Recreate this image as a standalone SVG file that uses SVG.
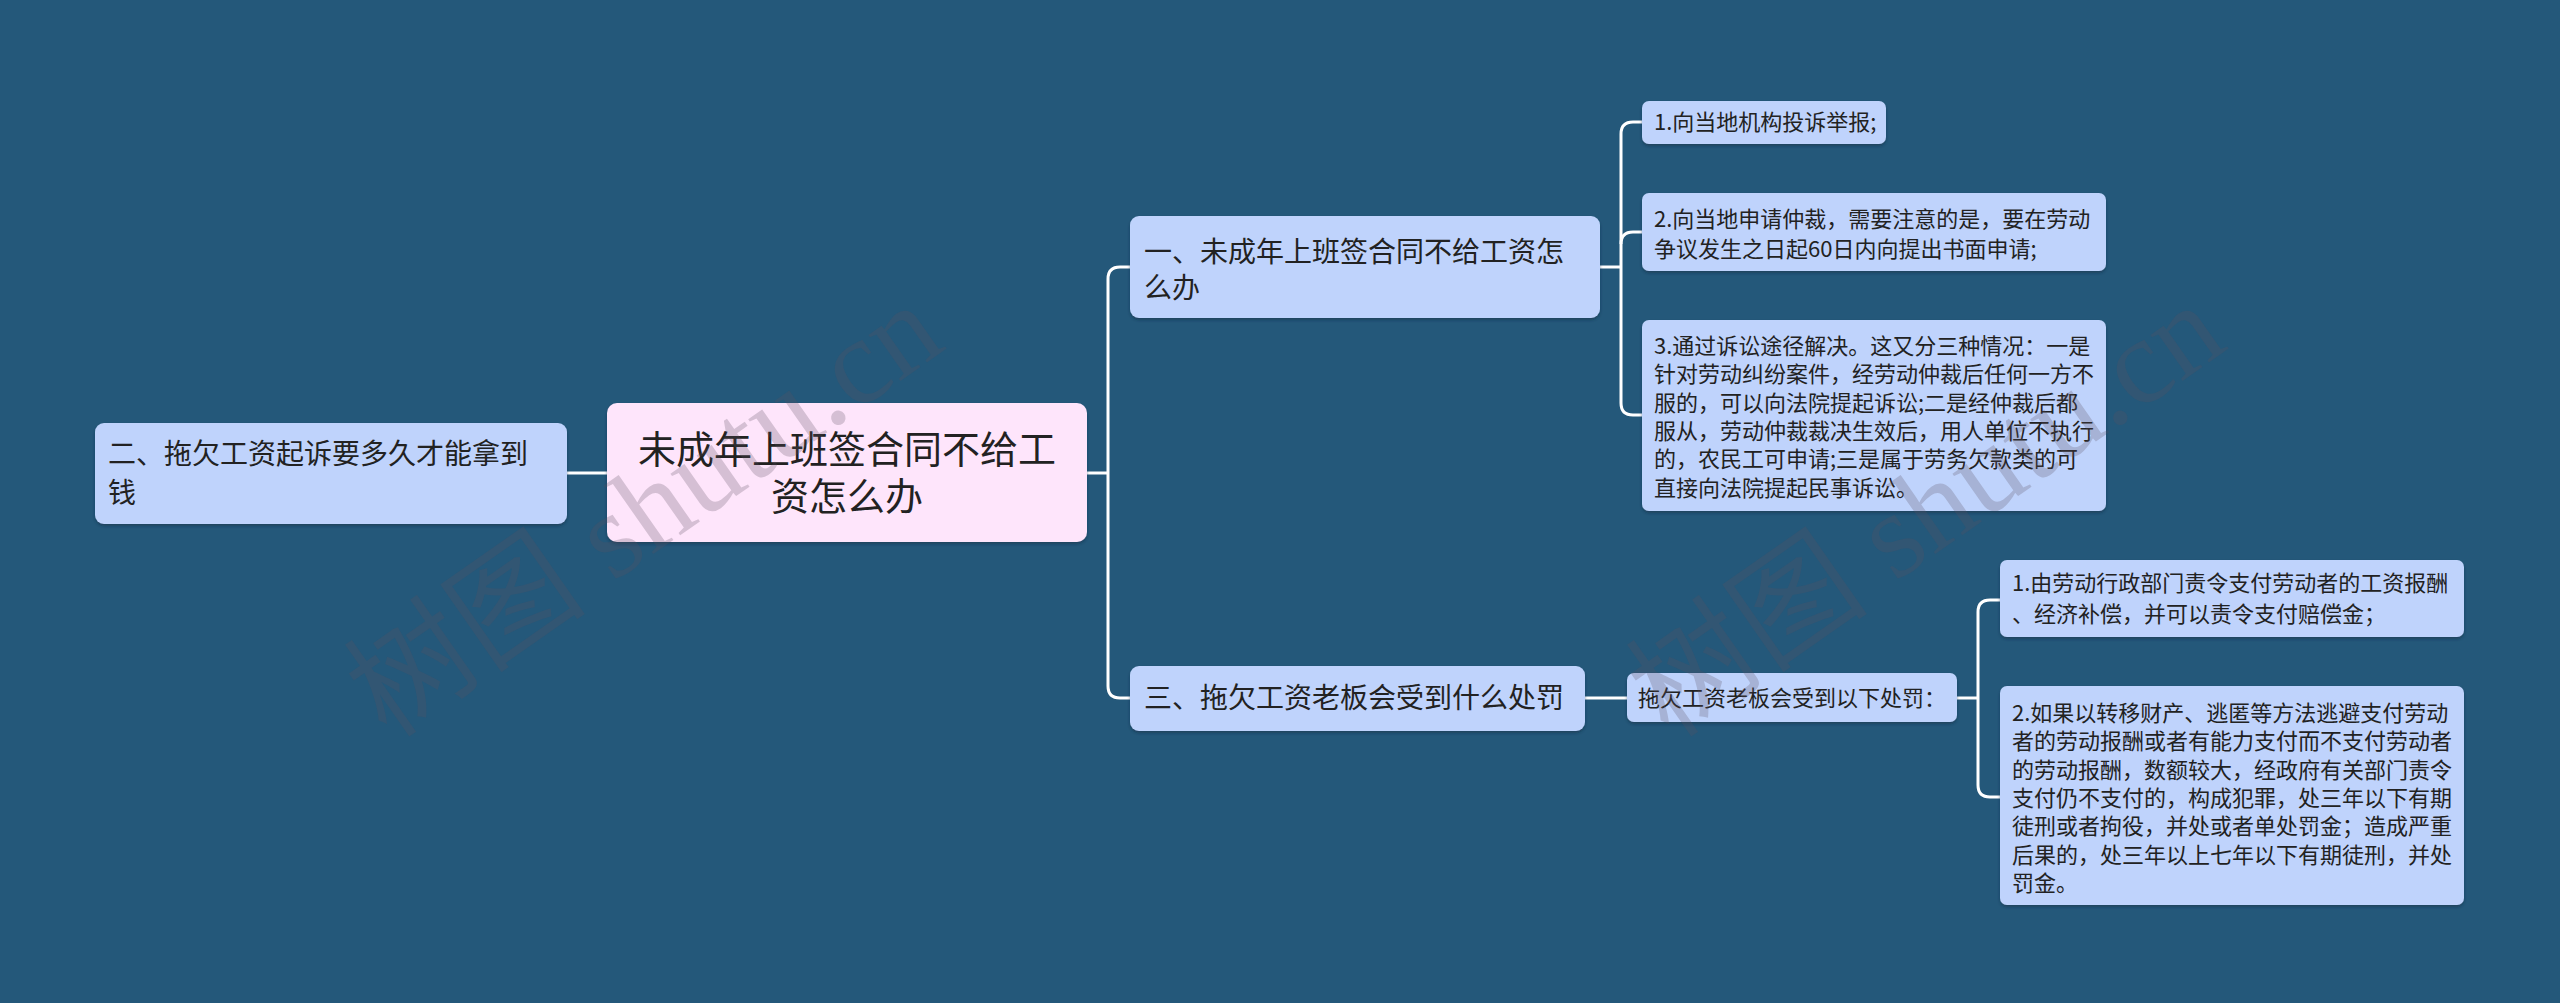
<svg xmlns="http://www.w3.org/2000/svg" width="2560" height="1003" viewBox="0 0 2560 1003">
<defs>
<filter id="sh" x="-5%" y="-10%" width="110%" height="130%">
<feDropShadow dx="0" dy="2" stdDeviation="1.5" flood-color="#0b2a40" flood-opacity="0.5"/>
</filter>
</defs>
<style>
.n{fill:#bfd3fc;filter:url(#sh)}
.c{fill:#fee5fb;filter:url(#sh)}
text{font-family:"Noto Sans CJK SC","Noto Sans",sans-serif;fill:#222}
.t28{font-size:28px}
.t38{font-size:38px}
.t22{font-size:22px}
.ln{fill:none;stroke:#ffffff;stroke-width:3}
.wm{font-family:"Liberation Serif","Noto Sans CJK SC",serif;font-size:122px;fill:#5a5060;fill-opacity:0.25}
</style>
<rect width="2560" height="1003" fill="#24587a"/>

<g id="connectors">
<path class="ln" d="M567,473 H607"/>
<path class="ln" d="M1087,473 H1108"/>
<path class="ln" d="M1130,267 H1120 Q1108,267 1108,279 V686 Q1108,698 1120,698 H1130"/>
<path class="ln" d="M1600,267 H1621"/>
<path class="ln" d="M1642,122 H1633 Q1621,122 1621,134 V403 Q1621,415 1633,415 H1642"/>
<path class="ln" d="M1621,244 Q1621,232 1633,232 H1642"/>
<path class="ln" d="M1585,698 H1627"/>
<path class="ln" d="M1957,698 H1978"/>
<path class="ln" d="M2000,600 H1990 Q1978,600 1978,612 V785 Q1978,797 1990,797 H2000"/>
</g>

<g id="node-left">
<rect class="n" x="95" y="423" width="472" height="101" rx="9"/>
<text class="t28" x="108" y="464">二、拖欠工资起诉要多久才能拿到</text>
<text class="t28" x="108" y="503">钱</text>
</g>

<g id="node-center">
<rect class="c" x="607" y="403" width="480" height="139" rx="10"/>
<text class="t38" x="847" y="463" text-anchor="middle">未成年上班签合同不给工</text>
<text class="t38" x="847" y="510" text-anchor="middle">资怎么办</text>
</g>

<g id="node-1">
<rect class="n" x="1130" y="216" width="470" height="102" rx="9"/>
<text class="t28" x="1144" y="262">一、未成年上班签合同不给工资怎</text>
<text class="t28" x="1144" y="298">么办</text>
</g>

<g id="node-3">
<rect class="n" x="1130" y="666" width="455" height="65" rx="9"/>
<text class="t28" x="1144" y="708">三、拖欠工资老板会受到什么处罚</text>
</g>

<g id="leaf-1-1">
<rect class="n" x="1642" y="101" width="244" height="43" rx="7"/>
<text class="t22" x="1654" y="130">1.向当地机构投诉举报;</text>
</g>

<g id="leaf-1-2">
<rect class="n" x="1642" y="193" width="464" height="78" rx="7"/>
<text class="t22" x="1654" y="227">2.向当地申请仲裁，需要注意的是，要在劳动</text>
<text class="t22" x="1654" y="257">争议发生之日起60日内向提出书面申请;</text>
</g>

<g id="leaf-1-3">
<rect class="n" x="1642" y="320" width="464" height="191" rx="7"/>
<text class="t22" x="1654" y="354">3.通过诉讼途径解决。这又分三种情况：一是</text>
<text class="t22" x="1654" y="382">针对劳动纠纷案件，经劳动仲裁后任何一方不</text>
<text class="t22" x="1654" y="411">服的，可以向法院提起诉讼;二是经仲裁后都</text>
<text class="t22" x="1654" y="439">服从，劳动仲裁裁决生效后，用人单位不执行</text>
<text class="t22" x="1654" y="467">的，农民工可申请;三是属于劳务欠款类的可</text>
<text class="t22" x="1654" y="496">直接向法院提起民事诉讼。</text>
</g>

<g id="node-3-1">
<rect class="n" x="1627" y="673" width="330" height="49" rx="7"/>
<text class="t22" x="1638" y="706">拖欠工资老板会受到以下处罚：</text>
</g>

<g id="leaf-3-1">
<rect class="n" x="2000" y="560" width="464" height="77" rx="7"/>
<text class="t22" x="2012" y="591">1.由劳动行政部门责令支付劳动者的工资报酬</text>
<text class="t22" x="2012" y="622">、经济补偿，并可以责令支付赔偿金；</text>
</g>

<g id="leaf-3-2">
<rect class="n" x="2000" y="686" width="464" height="219" rx="7"/>
<text class="t22" x="2012" y="721">2.如果以转移财产、逃匿等方法逃避支付劳动</text>
<text class="t22" x="2012" y="749">者的劳动报酬或者有能力支付而不支付劳动者</text>
<text class="t22" x="2012" y="778">的劳动报酬，数额较大，经政府有关部门责令</text>
<text class="t22" x="2012" y="806">支付仍不支付的，构成犯罪，处三年以下有期</text>
<text class="t22" x="2012" y="834">徒刑或者拘役，并处或者单处罚金；造成严重</text>
<text class="t22" x="2012" y="863">后果的，处三年以上七年以下有期徒刑，并处</text>
<text class="t22" x="2012" y="891">罚金。</text>
</g>

<g id="watermarks">
<text class="wm" x="0" y="40" text-anchor="middle" transform="translate(645 511) rotate(-35)">树图 shutu.cn</text>
<text class="wm" x="0" y="40" text-anchor="middle" transform="translate(1927 511) rotate(-35)">树图 shutu.cn</text>
</g>
</svg>
